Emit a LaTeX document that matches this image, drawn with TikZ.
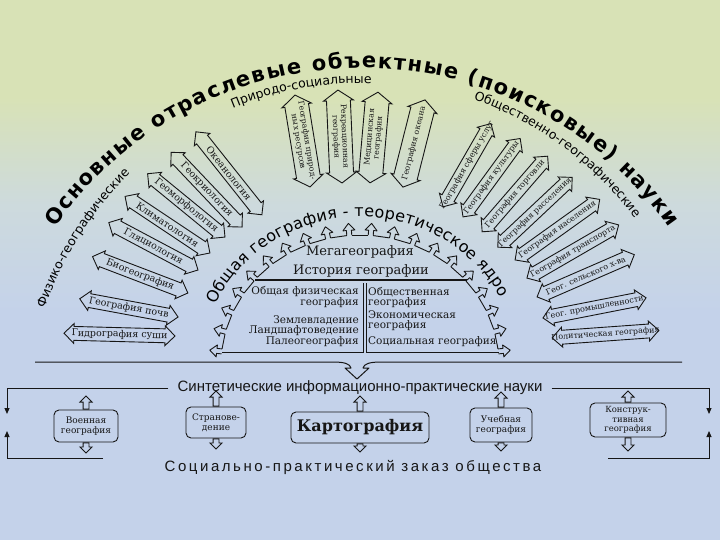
\documentclass[tikz,border=0pt]{standalone}
\usepackage{fontspec}
\setmainfont{DejaVu Serif}
\newfontfamily\hsans{DejaVu Sans}
\newfontfamily\lsans{Liberation Sans}
\newfontfamily\lsansw[LetterSpace=17]{Liberation Sans}
\usetikzlibrary{shapes.arrows,decorations.text,arrows.meta}
\definecolor{bgTop}{RGB}{216,226,182}
\definecolor{bgMid}{RGB}{205,218,221}
\definecolor{bgBot}{RGB}{196,210,234}
\definecolor{ink}{RGB}{22,22,22}
\pgfdeclareverticalshading{bgshade}{100bp}{color(0bp)=(bgBot); color(46bp)=(bgBot); color(56bp)=(bgMid); color(66bp)=(bgTop); color(100bp)=(bgTop)}
\newcommand\headfont{\hsans\bfseries\fontsize{21}{21}\selectfont}
\newcommand\subfont{\hsans\fontsize{12.5}{12.5}\selectfont}
\newcommand\corefont{\hsans\fontsize{16}{16}\selectfont}
\tikzset{
  fanarrow/.style={double arrow, draw=ink, line width=0.9pt, inner xsep=0pt, inner ysep=6.5pt, text height=0pt, text depth=0pt, double arrow head extend=3pt, double arrow tip angle=90},
  toparrow/.style={fanarrow, inner ysep=11.5pt, double arrow tip angle=110},
  lefttext/.style={font=\fontsize{9.5}{10}\selectfont, inner sep=0pt, text=ink},
  righttext/.style={font=\fontsize{8}{9}\selectfont, inner sep=0pt, text=ink},
  toptext/.style={font=\fontsize{7.8}{8.6}\selectfont, inner sep=0pt, text=ink, align=center},
  crown/.style={draw=ink, line width=0.9pt, line join=round},
  coretxt/.style={font=\fontsize{13}{13}\selectfont, inner sep=0pt, text=ink},
  boxtxt/.style={font=\fontsize{10.5}{10.5}\selectfont, inner sep=0pt, text=ink},
  bbox/.style={draw=ink, line width=0.9pt, rounded corners=5pt, align=center, inner sep=1pt, font=\fontsize{9}{10}\selectfont, text=ink},
  smallarr/.style={single arrow, draw=ink, line width=0.9pt, inner xsep=0pt, inner ysep=2.5pt, text height=0pt, text depth=0pt, single arrow head extend=3pt, single arrow tip angle=90, anchor=tail},
  brk/.style={draw=ink, line width=1pt},
  brkarr/.style={brk, -{Triangle[length=6pt,width=5pt]}},
}
\begin{document}
\begin{tikzpicture}[x=1pt,y=1pt]
\shade[shading=bgshade] (0,0) rectangle (720,-540);
\useasboundingbox (0,0) rectangle (720,-540);

% headings along arcs
\path[decorate, decoration={text along path, text align={fit to path}, text={|\headfont|Основные отраслевые объектные (поисковые) науки}}]
  (55.3,-227.6) arc[start angle=146, end angle=34, x radius=370, y radius=362];
\path[decorate, decoration={text along path, text align={center}, text={|\subfont|Физико-географические}}]
  (42.3,-315.4) arc[start angle=161, end angle=132, x radius=336, y radius=352];
\path[decorate, decoration={text along path, text align={center}, text={|\subfont|Природо-социальные}}]
  (232.6,-108.3) arc[start angle=112, end angle=88, x radius=340, y radius=347];
\path[decorate, decoration={text along path, text align={center}, text={|\subfont|Общественно-географические}}]
  (466.6,-97.1) arc[start angle=72, end angle=36, x radius=345, y radius=350];

% left fan
\foreach \nm/\px/\py/\a/\l/\t in {
  L1/119.5/334.6/-1.5/111/Гидрография суши,
  L2/128.9/307.9/-10.5/100/География почв,
  L3/140.2/274.8/-20.9/102/Биогеография,
  L4/153.4/246.3/-28/101/Гляциология,
  L5/167.5/224.7/-33.7/102/Климатология,
  L6/186.3/205.4/-39.3/100/Геоморфология,
  L7/206.6/189.7/-46.5/103/Геокриология,
  L8/228.9/173.3/-51.5/106/Океанология}{
  \node[fanarrow, minimum height=\l pt, rotate=\a] (\nm) at (\px,-\py) {};
  \node[lefttext, rotate=\a] (\nm-t) at (\nm) {\t};
}
% right fan
\foreach \nm/\px/\py/\a/\l/\t in {
  R1/467/165.2/60.1/96/География сферы услуг,
  R2/491.6/177.7/53.9/97/География культуры,
  R3/514.9/194/49.1/100/География торговли,
  R4/535/212.3/43.2/102/География расселения,
  R5/557.4/229.7/35.6/104/География населения,
  R6/572.8/251.5/30.1/106/География транспорта,
  R7/585.7/275.8/23.5/106/Геог. сельского х-ва,
  R8/594.5/307.9/11.1/105/Геог. промышленности,
  R9/605.5/334.1/4.1/107/Политическая география}{
  \node[fanarrow, minimum height=\l pt, rotate=\a] (\nm) at (\px,-\py) {};
  \node[righttext, rotate=\a] (\nm-t) at (\nm) {\t};
}
% top (natural-social) arrows
\node[toparrow, minimum height=93pt, rotate=-80.7] (T1) at (302.5,-141) {};
\node[toptext, rotate=-80.7] (T1-t) at (T1) {География природ-\\ных ресурсов};
\node[toparrow, minimum height=93pt, rotate=-87.5] (T2) at (340,-136.5) {};
\node[toptext, rotate=-87.5] (T2-t) at (T2) {Рекреационная\\география};
\node[toparrow, minimum height=91pt, rotate=85] (T3) at (374,-137.5) {};
\node[toptext, rotate=85] (T3-t) at (T3) {Медицинская\\география};
\node[toparrow, minimum height=90pt, rotate=75.8] (T4) at (414,-143.5) {};
\node[toptext, rotate=75.8] (T4-t) at (T4) {География океана};

% core title
\path[decorate, decoration={text along path, text align={fit to path}, text={|\corefont|Общая география - теоретическое ядро}}]
  (215.7,-304.8) arc[start angle=156, end angle=27, x radius=158, y radius=148];

% crown of teeth
\foreach \i in {0,...,19}{
  \pgfmathsetmacro\ang{174-\i*168/19}
  \pgfmathsetmacro\cx{360+139*cos(\ang)}
  \pgfmathsetmacro\cy{-365+130*sin(\ang)}
  \begin{scope}[shift={(\cx,\cy)}, rotate=\ang-90]
    \draw[crown] (-2.5,0) -- (-2.5,5) -- (-6,5) -- (0,12) -- (6,5) -- (2.5,5) -- (2.5,0);
    \coordinate (cl\i) at (-2.5,0);
    \coordinate (cr\i) at (2.5,0);
  \end{scope}
}
\foreach \i in {0,...,18}{
  \pgfmathtruncatemacro\j{\i+1}
  \draw[crown] (cr\i) -- (cl\j);
}

% core contents
\node[coretxt] (mega) at (360,-252) {Мегагеография};
\node[coretxt] (hist) at (361,-271) {История географии};
\draw[ink, line width=1.5pt] (255,-280) -- (467,-280);
\draw[ink, line width=0.9pt] (363,-283) -- (363,-352) -- (222,-352);
\draw[ink, line width=0.9pt] (366,-283) -- (366,-352) -- (499,-352);
\node[boxtxt, anchor=east] (p1) at (359,-292) {Общая физическая};
\node[boxtxt, anchor=east] (p2) at (359,-302.5) {география};
\node[boxtxt, anchor=east] (p3) at (359,-320) {Землевладение};
\node[boxtxt, anchor=east] (p4) at (359,-331) {Ландшафтоведение};
\node[boxtxt, anchor=east] (p5) at (359,-342) {Палеогеография};
\node[boxtxt, anchor=west] (s1) at (368,-292) {Общественная};
\node[boxtxt, anchor=west] (s2) at (368,-302.5) {география};
\node[boxtxt, anchor=west] (s3) at (368,-315) {Экономическая};
\node[boxtxt, anchor=west] (s4) at (368,-325.5) {география};
\node[boxtxt, anchor=west] (s5) at (368,-342) {Социальная география};

% brace
\draw[ink, line width=1pt, line join=round] (35,-362) -- (333,-362) .. controls (345,-362) and (350,-364) .. (351,-368) -- (345,-368) -- (357,-379) -- (369,-368) -- (363,-368) .. controls (364,-364) and (369,-362) .. (381,-362) -- (682,-362);

% synthetic sciences
\node[font=\lsans\fontsize{15}{15}\selectfont, inner sep=0pt, text=ink] (syn) at (360,-388) {Синтетические информационно-практические науки};
\coordinate (tlA) at (7,-388); \coordinate (tlB) at (7,-414);
\coordinate (trA) at (709,-388); \coordinate (trB) at (709,-414);
\coordinate (blA) at (103,-458); \coordinate (blB) at (7,-458); \coordinate (blC) at (7,-431);
\coordinate (brA) at (608,-458); \coordinate (brB) at (709,-458); \coordinate (brC) at (709,-431);
\draw[brkarr] ([xshift=-9pt]syn.west) -- (tlA) -- (tlB);
\draw[brkarr] ([xshift=9pt]syn.east) -- (trA) -- (trB);
\draw[brkarr] (blA) -- (blB) -- (blC);
\draw[brkarr] (brA) -- (brB) -- (brC);

\node[font=\lsansw\fontsize{15}{15}\selectfont, inner sep=0pt, text=ink] (soc) at (353,-467) {Социально-практический заказ общества};

\node[bbox, minimum width=64pt, minimum height=32pt] (voen) at (86,-426) {Военная\\география};
\node[bbox, minimum width=60pt, minimum height=31pt] (stran) at (216,-422.5) {Странове-\\дение};
\node[bbox, minimum width=138pt, minimum height=31pt, font=\bfseries\fontsize{16}{16}\selectfont] (karto) at (360,-427.5) {Картография};
\node[bbox, minimum width=62pt, minimum height=34pt] (ucheb) at (501,-425) {Учебная\\география};
\node[bbox, minimum width=76pt, minimum height=34pt, font=\fontsize{8.5}{9.5}\selectfont] (konstr) at (628,-420) {Конструк-\\тивная\\география};

\foreach \b/\u/\d in {voen/13/10, stran/15/10, karto/15/8, ucheb/15/8, konstr/11/13}{
  \node[smallarr, minimum height=\u pt, rotate=90] (\b-up) at (\b.north) {};
  \node[smallarr, minimum height=\d pt, rotate=-90] (\b-dn) at (\b.south) {};
}
\end{tikzpicture}
\end{document}
